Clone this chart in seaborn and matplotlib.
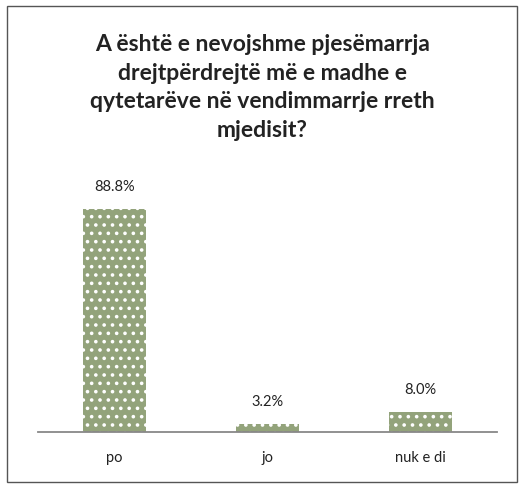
import matplotlib
matplotlib.use("Agg")
import matplotlib.pyplot as plt
import seaborn as sns
import pandas as pd

# data
categories = ["po", "jo", "nuk e di"]
values = [88.8, 3.2, 8.0]
value_labels = ["88.8%", "3.2%", "8.0%"]
title = ("A është e nevojshme pjesëmarrja\ndrejtpërdrejtë më e madhe e\n"
         "qytetarëve në vendimmarrje rreth\nmjedisit?")

df = pd.DataFrame({"answer": categories, "pct": values})

sns.set_theme(style="white")
plt.rcParams["font.family"] = ["Lato", "DejaVu Sans"]
plt.rcParams["hatch.linewidth"] = 1.4

fig = plt.figure(figsize=(5.25, 4.88), dpi=100)
ax = fig.add_axes([0.072, 0.115, 0.875, 0.514])

sns.barplot(data=df, x="answer", y="pct", ax=ax, width=0.41,
            color="#93a37b", saturation=1)
for bar in ax.patches:
    bar.set_hatch("..")
    bar.set_edgecolor("white")
    bar.set_linewidth(0)

for bar, lab in zip(ax.patches, value_labels):
    ax.text(bar.get_x() + bar.get_width() / 2, bar.get_height() + 6, lab,
            ha="center", va="bottom", fontsize=10.5, color="#222222")

ax.set_ylim(0, 100)
ax.set_xlim(-0.5, 2.5)
ax.set_xlabel("")
ax.set_ylabel("")
ax.set_yticks([])
ax.tick_params(axis="x", length=0, pad=14, labelsize=10.5, labelcolor="#222222")
for side in ["top", "left", "right"]:
    ax.spines[side].set_visible(False)
ax.spines["bottom"].set_color("#888888")
ax.spines["bottom"].set_linewidth(1.3)

fig.text(0.5, 0.93, title, ha="center", va="top", fontsize=16.5,
         fontweight="bold", color="#222222", linespacing=1.45)

# outer border
border = plt.Rectangle((0.013, 0.012), 0.972, 0.976, transform=fig.transFigure,
                       fill=False, edgecolor="#555555", linewidth=1)
fig.patches.append(border)

fig.savefig("out.png", dpi=100)
